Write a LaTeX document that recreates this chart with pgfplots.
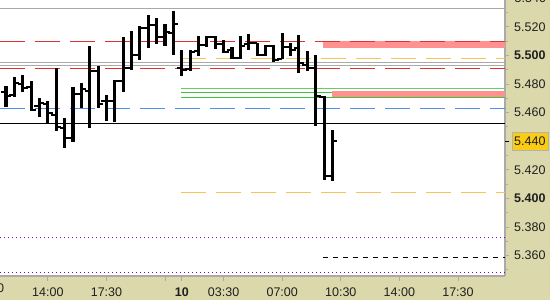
\documentclass[border=0pt]{standalone}
\usepackage{fontspec}
\setmainfont{Liberation Sans}
\usepackage{pgfplots}
\pgfplotsset{compat=1.18}
\usepackage{pgfplotstable}

\definecolor{khaki}{RGB}{219,216,172}
\definecolor{lgrey}{RGB}{170,170,170}
\definecolor{rline}{RGB}{224,48,48}
\definecolor{bline}{RGB}{80,145,240}
\definecolor{oline}{RGB}{250,195,90}
\definecolor{gline1}{RGB}{100,205,100}
\definecolor{gline2}{RGB}{60,195,60}
\definecolor{pinkz}{RGB}{255,145,145}
\definecolor{purp}{RGB}{140,0,200}
\definecolor{goldbox}{RGB}{250,205,20}

\pgfdeclareplotmark{ohlcopen}{\pgfpathmoveto{\pgfqpoint{-5pt}{0pt}}\pgfpathlineto{\pgfqpoint{0pt}{0pt}}\pgfusepathqstroke}
\pgfdeclareplotmark{ohlcclose}{\pgfpathmoveto{\pgfqpoint{0pt}{0pt}}\pgfpathlineto{\pgfqpoint{5pt}{0pt}}\pgfusepathqstroke}

\pgfplotstableread{
k o h l c
-1 5.4772 5.4800 5.4723 5.4758
0 5.4744 5.4786 5.4639 5.4716
1 5.4723 5.4849 5.4709 5.4807
2 5.4800 5.4863 5.4744 5.4772
3 5.4779 5.4821 5.4611 5.4618
4 5.4646 5.4702 5.4569 5.4667
5 5.4660 5.4681 5.4520 5.4597
6 5.4583 5.4912 5.4471 5.4499
7 5.4492 5.4562 5.4352 5.4422
8 5.4422 5.4779 5.4394 5.4730
9 5.4730 5.4807 5.4632 5.4765
10 5.4751 5.5065 5.4492 5.4891
11 5.4891 5.4926 5.4632 5.4660
12 5.4681 5.4723 5.4541 5.4681
13 5.4681 5.4828 5.4534 5.4821
14 5.4821 5.5128 5.4744 5.4912
15 5.4912 5.5170 5.4898 5.5002
16 5.5002 5.5205 5.4968 5.5191
17 5.5191 5.5282 5.5051 5.5212
18 5.5212 5.5261 5.5079 5.5128
19 5.5128 5.5219 5.5065 5.5163
20 5.5156 5.5310 5.5002 5.5219
21 5.4912 5.5037 5.4856 5.4898
22 5.4905 5.5037 5.4891 5.5023
23 5.5030 5.5135 5.4996 5.5072
24 5.5072 5.5135 5.5058 5.5128
25 5.5128 5.5135 5.5044 5.5079
26 5.5079 5.5107 5.5016 5.5023
27 5.5037 5.5058 5.4975 5.4982
28 5.4982 5.5135 5.4975 5.5065
29 5.5079 5.5149 5.5037 5.5086
30 5.5086 5.5086 5.4996 5.5002
31 5.5002 5.5072 5.4996 5.5065
32 5.5065 5.5072 5.4954 5.4968
33 5.4975 5.5156 5.4975 5.5058
34 5.5058 5.5086 5.4996 5.5037
35 5.5051 5.5142 5.4877 5.4947
36 5.4933 5.5030 5.4891 5.4912
37 5.4912 5.5002 5.4506 5.4716
38 5.4709 5.4716 5.4129 5.4157
39 5.4157 5.4478 5.4122 5.4401
}\bars

\begin{document}
\begin{tikzpicture}[x=1pt,y=1pt]
\useasboundingbox (0,-24) rectangle (550,276);
\begin{scope}
\clip (0,-24) rectangle (550,276);
\fill[white] (0,-24) rectangle (550,276);
\fill[khaki] (505,-24) rectangle (550,276);
\fill[khaki] (0,-24) rectangle (550,0);
\begin{axis}[width=505pt, height=276pt, scale only axis,
  xmin=-0.717, xmax=59.618, ymin=5.3457, ymax=5.5387,
  axis x line*=bottom, axis y line*=right,
  axis line style={-, draw=lgrey, line width=1.2pt},
  xtick pos=bottom, ytick pos=right, yticklabel pos=right,
  tick align=outside, major tick length=4.5pt, minor tick length=3pt,
  tick style={draw=lgrey, line width=0.8pt},
  xtick={5,12,19,21,26,33,40,47,54},
  xticklabels={14:00,17:30,,\textbf{10},03:30,07:00,10:30,14:00,17:30},
  ytick={5.36,5.38,5.40,5.42,5.46,5.48,5.50,5.52},
  yticklabels={5.360,5.380,\textbf{5.400},5.420,5.460,5.480,\textbf{5.500},5.520},
  minor ytick={5.35,5.37,5.39,5.41,5.43,5.45,5.47,5.49,5.51,5.53},
  tick label style={font=\fontsize{12.5}{14}\selectfont, text=black!88},
  xticklabel style={anchor=center, yshift=-12pt, inner sep=0pt},
  yticklabel style={anchor=west, inner sep=0pt, xshift=4.5pt},
  extra y ticks={5.44}, extra y tick labels={5.440},
  extra y tick style={tick style={draw=black}, yticklabel style={fill=goldbox, draw=black!30, inner xsep=2.5pt, inner ysep=5pt, xshift=-2.5pt}},
  clip=true]
% reference lines
\addplot[lgrey, line width=1.3pt] coordinates {(-0.717,5.5329) (59.618,5.5329)};
\addplot[lgrey, line width=1pt] coordinates {(-0.717,5.4952) (59.618,5.4952)};
\addplot[lgrey, line width=1pt] coordinates {(-0.717,5.4931) (59.618,5.4931)};
\addplot[fill=pinkz, draw=none] coordinates {(37.87,5.5054) (59.618,5.5054) (59.618,5.5099) (37.87,5.5099)};
\addplot[rline, line width=1.1pt, dash pattern=on 25pt off 10pt] coordinates {(-0.717,5.5096) (59.618,5.5096)};
\addplot[rline, line width=1.1pt, dash pattern=on 25pt off 10pt] coordinates {(-0.717,5.4910) (59.618,5.4910)};
\addplot[oline, line width=1pt, dash pattern=on 25pt off 10pt] coordinates {(20.91,5.4979) (59.618,5.4979)};
\addplot[gline1, line width=1.1pt] coordinates {(20.91,5.4770) (59.618,5.4770)};
\addplot[gline2, line width=1.1pt] coordinates {(20.91,5.4742) (59.618,5.4742)};
\addplot[gline2, line width=1.1pt] coordinates {(20.91,5.4707) (59.618,5.4707)};
\addplot[fill=pinkz, draw=none] coordinates {(38.95,5.4711) (59.618,5.4711) (59.618,5.4748) (38.95,5.4748)};
\addplot[bline, line width=1.1pt, dash pattern=on 25pt off 10pt] coordinates {(-0.717,5.4630) (59.618,5.4630)};
\addplot[black, line width=1.3pt] coordinates {(-0.717,5.4525) (59.618,5.4525)};
\addplot[oline, line width=1pt, dash pattern=on 25pt off 10pt] coordinates {(20.91,5.4038) (59.618,5.4038)};
\addplot[purp, line width=1.2pt, dash pattern=on 1.2pt off 2.8pt] coordinates {(-0.717,5.3728) (59.618,5.3728)};
\addplot[purp, line width=1.2pt, dash pattern=on 1.2pt off 2.8pt] coordinates {(-0.717,5.3484) (59.618,5.3484)};
\addplot[black, line width=1pt, dash pattern=on 5pt off 5pt] coordinates {(37.87,5.3588) (59.618,5.3588)};
% OHLC bars
\addplot[draw=none, mark=none, error bars/.cd, y dir=both, y explicit, error mark=none,
  error bar style={draw=black, line width=3.1pt}]
  table[x=k, y expr={(\thisrow{h}+\thisrow{l})/2}, y error expr={(\thisrow{h}-\thisrow{l})/2}] {\bars};
\addplot[only marks, mark=ohlcopen, mark options={draw=black, line width=2.2pt}] table[x=k, y=o] {\bars};
\addplot[only marks, mark=ohlcclose, mark options={draw=black, line width=2.2pt}] table[x=k, y=c] {\bars};
\end{axis}
\node[anchor=west, inner sep=0pt, font=\fontsize{12.5}{14}\selectfont, text=black!88] at (514.5,277.9) {5.540};
\node[anchor=center, inner sep=0pt, font=\fontsize{12.5}{14}\selectfont, text=black!88] at (-11.5,-12) {10:30};
\end{scope}
\end{tikzpicture}
\end{document}
